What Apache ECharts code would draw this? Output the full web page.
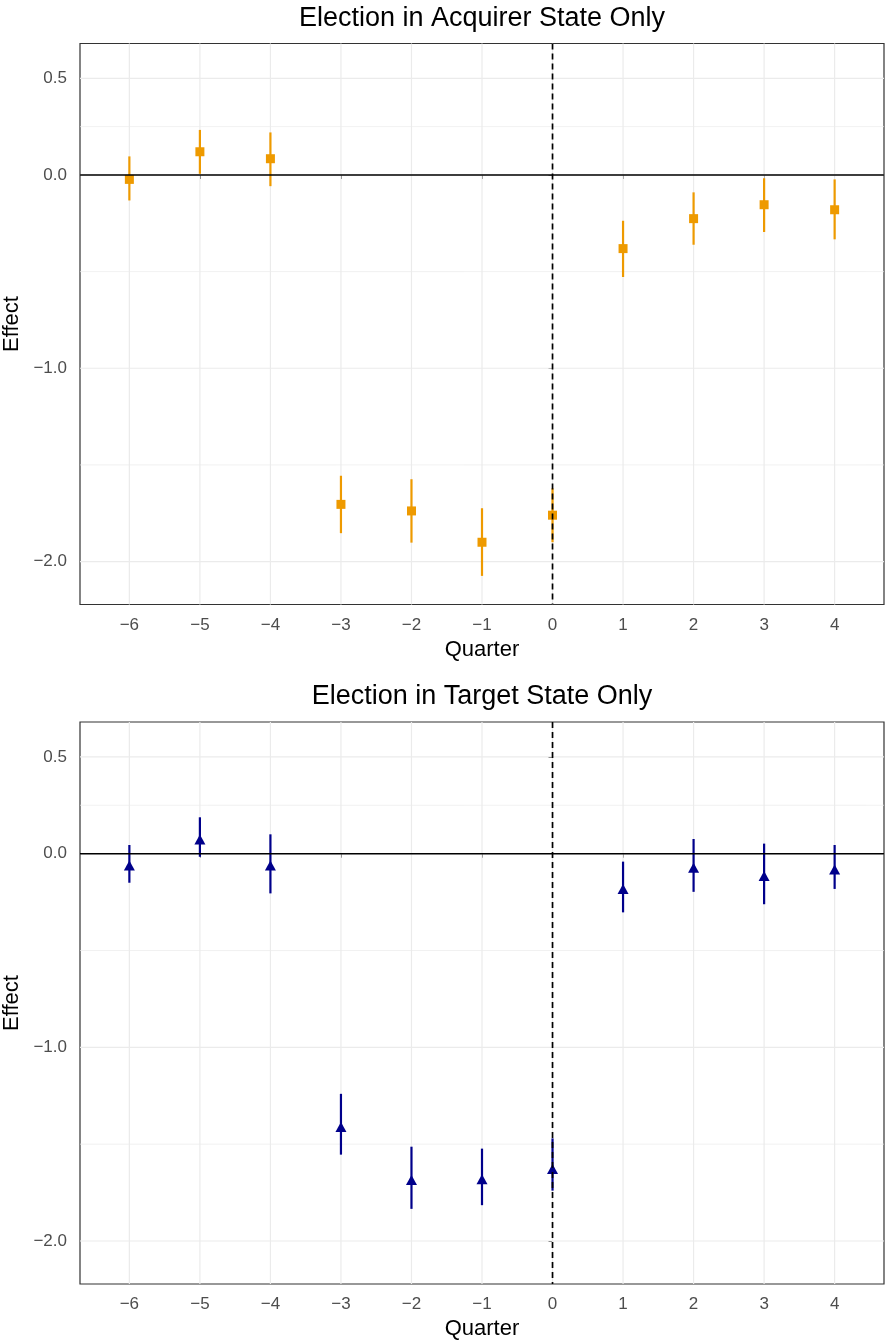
<!DOCTYPE html>
<html>
<head>
<meta charset="utf-8">
<script src="https://cdn.jsdelivr.net/npm/echarts@6/dist/echarts.min.js"></script>
<style>
  html, body { margin: 0; padding: 0; background: #fff; }
  #chart { width: 888px; height: 1341px; }
</style>
</head>
<body>
<div id="chart"></div>
<script>
// quarters relative to the election
const quarters = [-6, -5, -4, -3, -2, -1, 0, 1, 2, 3, 4];

// Election in Acquirer State Only
const acqEffect = [-0.023, 0.120, 0.084, -1.704, -1.738, -1.900, -1.760, -0.381, -0.226, -0.154, -0.180];
const acqLow    = [-0.132, 0.006, -0.058, -1.853, -1.902, -2.074, -1.900, -0.528, -0.361, -0.295, -0.333];
const acqHigh   = [0.096, 0.233, 0.220, -1.556, -1.574, -1.724, -1.621, -0.237, -0.090, -0.017, -0.023];

// Election in Target State Only
const tgtEffect = [-0.053, 0.081, -0.053, -1.403, -1.677, -1.673, -1.620, -0.174, -0.064, -0.107, -0.074];
const tgtLow    = [-0.150, -0.016, -0.205, -1.554, -1.834, -1.815, -1.740, -0.303, -0.197, -0.261, -0.182];
const tgtHigh   = [0.045, 0.188, 0.100, -1.240, -1.513, -1.523, -1.470, -0.041, 0.076, 0.052, 0.045];

// axis breaks
const yTicks = [0.5, 0, -1, -2];
const yMinor = [0.25, -0.5, -1.5];
const xTicks = quarters;

const font = 'Liberation Sans';
const fmtX = v => (v < 0 ? '\u2212' + Math.abs(v) : String(v));
const fmtY = v => (v < 0 ? '\u2212' : '') + Math.abs(v).toFixed(1);

const chart = echarts.init(document.getElementById('chart'));

const grids = [
  { left: 80, width: 804, top: 43.5, height: 561 },
  { left: 80, width: 804, top: 722, height: 562 }
];

function xAxisFor(i) {
  return {
    type: 'value', gridIndex: i, min: -6.7, max: 4.7,
    name: 'Quarter', nameLocation: 'middle', nameGap: 34,
    nameTextStyle: { fontFamily: font, fontSize: 22, color: '#000' },
    axisLine: { show: false },
    axisTick: { show: true, length: 4, customValues: xTicks, lineStyle: { color: '#333', width: 1 } },
    axisLabel: { customValues: xTicks, formatter: fmtX, margin: 12,
      fontFamily: font, fontSize: 17, color: '#4D4D4D' },
    splitLine: { show: false }
  };
}

function yAxisFor(i) {
  return {
    type: 'value', gridIndex: i, min: -2.222, max: 0.68,
    name: 'Effect', nameLocation: 'middle', nameGap: 57, nameRotate: 90,
    nameTextStyle: { fontFamily: font, fontSize: 22, color: '#000' },
    axisLine: { show: false },
    axisTick: { show: true, length: 4, customValues: yTicks, lineStyle: { color: '#333', width: 1 } },
    axisLabel: { customValues: yTicks, formatter: fmtY, margin: 13,
      fontFamily: font, fontSize: 17, color: '#4D4D4D' },
    splitLine: { show: false }
  };
}

function gridLines(i) {
  const data = [];
  xTicks.forEach(v => data.push(['v', v, 1.2]));
  yTicks.forEach(v => data.push(['h', v, 1.2]));
  yMinor.forEach(v => data.push(['h', v, 0.7]));
  return {
    type: 'custom', xAxisIndex: i, yAxisIndex: i, z: 1, silent: true,
    data: data,
    renderItem: function (params, api) {
      const cs = params.coordSys;
      const kind = data[params.dataIndex][0];
      const v = data[params.dataIndex][1];
      const w = data[params.dataIndex][2];
      let shape;
      if (kind === 'v') {
        const p = api.coord([v, 0]);
        shape = { x1: p[0], y1: cs.y, x2: p[0], y2: cs.y + cs.height };
      } else {
        const p = api.coord([0, v]);
        shape = { x1: cs.x, y1: p[1], x2: cs.x + cs.width, y2: p[1] };
      }
      return { type: 'line', shape: shape, style: { stroke: '#EBEBEB', lineWidth: w } };
    }
  };
}

function refLines(i) {
  return {
    type: 'custom', xAxisIndex: i, yAxisIndex: i, z: 5, silent: true,
    data: [['h', 0], ['v', 0]],
    renderItem: function (params, api) {
      const cs = params.coordSys;
      const p = api.coord([0, 0]);
      if (params.dataIndex === 0) {
        return { type: 'line', shape: { x1: cs.x, y1: p[1], x2: cs.x + cs.width, y2: p[1] },
          style: { stroke: '#000', lineWidth: 1.6 } };
      }
      return { type: 'line', shape: { x1: p[0], y1: cs.y, x2: p[0], y2: cs.y + cs.height },
        style: { stroke: '#000', lineWidth: 1.7, lineDash: [6, 4] } };
    }
  };
}

function errorBars(i, low, high, color) {
  return {
    type: 'custom', xAxisIndex: i, yAxisIndex: i, z: 2, silent: true,
    data: quarters.map((q, k) => [q, low[k], high[k]]),
    encode: { x: 0, y: [1, 2] },
    renderItem: function (params, api) {
      const a = api.coord([api.value(0), api.value(1)]);
      const b = api.coord([api.value(0), api.value(2)]);
      return { type: 'line', shape: { x1: a[0], y1: a[1], x2: b[0], y2: b[1] },
        style: { stroke: color, lineWidth: 2.2 } };
    }
  };
}

const option = {
  animation: false,
  backgroundColor: '#fff',
  title: [
    { text: 'Election in Acquirer State Only', left: 482, top: 5, textAlign: 'center', padding: 0,
      textStyle: { fontFamily: font, fontSize: 27, fontWeight: 'normal', color: '#000' } },
    { text: 'Election in Target State Only', left: 482, top: 683, textAlign: 'center', padding: 0,
      textStyle: { fontFamily: font, fontSize: 27, fontWeight: 'normal', color: '#000' } }
  ],
  grid: grids.map(g => Object.assign({ show: true, borderColor: '#333', borderWidth: 1.2,
    backgroundColor: '#fff', outerBoundsMode: 'none', containLabel: false }, g)),
  xAxis: [xAxisFor(0), xAxisFor(1)],
  yAxis: [yAxisFor(0), yAxisFor(1)],
  series: [
    gridLines(0),
    gridLines(1),
    errorBars(0, acqLow, acqHigh, '#EE9A00'),
    errorBars(1, tgtLow, tgtHigh, '#00008B'),
    {
      type: 'scatter', xAxisIndex: 0, yAxisIndex: 0, z: 3, silent: true,
      symbol: 'rect', symbolSize: 9,
      itemStyle: { color: '#EE9A00', opacity: 1 },
      data: quarters.map((q, k) => [q, acqEffect[k]])
    },
    {
      type: 'scatter', xAxisIndex: 1, yAxisIndex: 1, z: 3, silent: true,
      symbol: 'triangle', symbolSize: [11, 10], symbolOffset: [0, 1.6],
      itemStyle: { color: '#00008B', opacity: 1 },
      data: quarters.map((q, k) => [q, tgtEffect[k]])
    },
    refLines(0),
    refLines(1)
  ]
};

chart.setOption(option);
</script>
</body>
</html>
